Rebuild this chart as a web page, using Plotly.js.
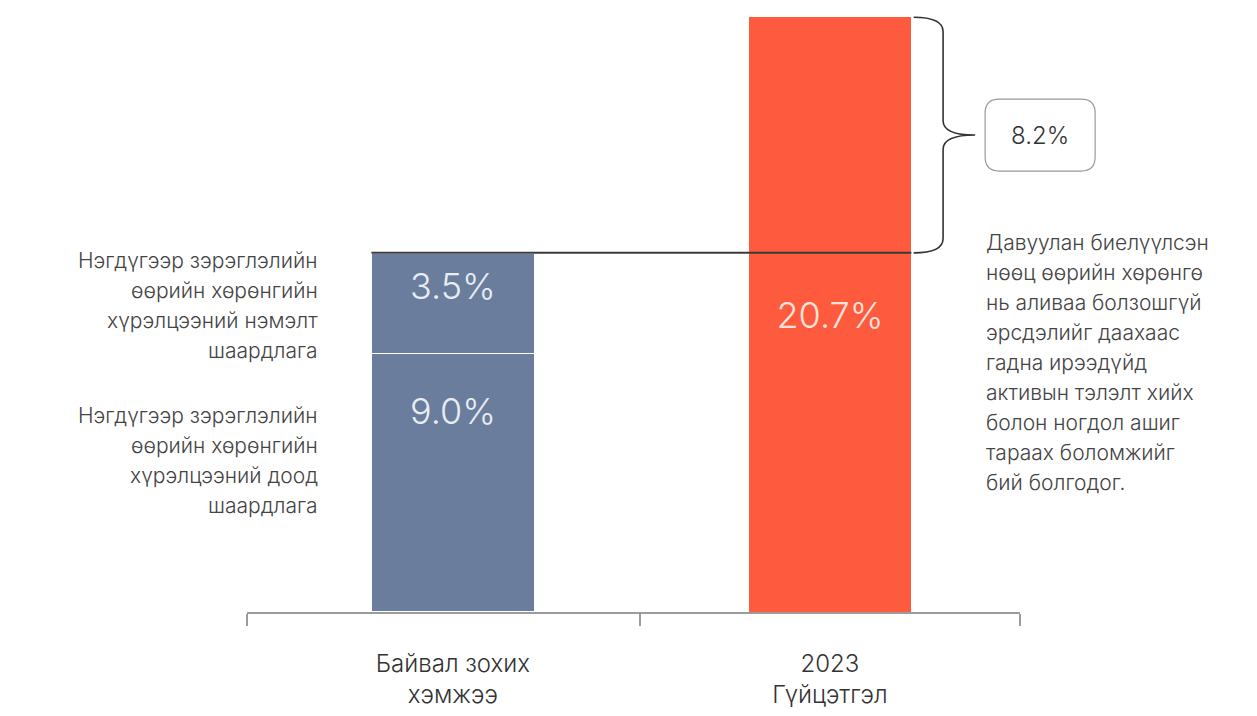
<!DOCTYPE html>
<html>
<head>
<meta charset="utf-8">
<script src="https://cdn.plot.ly/plotly-3.0.1.min.js"></script>
<style>
  html, body { margin: 0; padding: 0; background: #ffffff; }
  #chart { width: 1257px; height: 716px; }
</style>
</head>
<body>
<div id="chart"></div>
<script>
// ---- data ----
const categories = ['Байвал зохих<br>хэмжээ', '2023<br>Гүйцэтгэл'];
const minRequirement = [9.0];          // lower requirement segment (category 0)
const addRequirement = [3.5];          // additional requirement segment (category 0)
const actual2023 = [20.7];             // 2023 performance (category 1)
const excess = [8.2];                  // excess over requirement
const minReqLabel = ['Нэгдүгээр зэрэглэлийн', 'өөрийн хөрөнгийн', 'хүрэлцээний доод', 'шаардлага'];
const addReqLabel = ['Нэгдүгээр зэрэглэлийн', 'өөрийн хөрөнгийн', 'хүрэлцээний нэмэлт', 'шаардлага'];
const noteLines = ['Давуулан биелүүлсэн', 'нөөц өөрийн хөрөнгө', 'нь аливаа болзошгүй', 'эрсдэлийг даахаас',
  'гадна ирээдүйд', 'активын тэлэлт хийх', 'болон ногдол ашиг', 'тараах боломжийг', 'бий болгодог.'];

// ---- styles ----
const FONT = 'Inter, "Open Sans", "DejaVu Sans", sans-serif';
const BLUE = '#6a7d9d';
const RED = '#fe5b3e';
const BAR_W = 0.432;
const X_RANGE = [-0.546, 1.504];
const Y_RANGE = [0, 21.3];
const fmt = v => v.toFixed(1) + '%';

const totalReq = minRequirement[0] + addRequirement[0];
const topVal = actual2023[0];
const midVal = (topVal + totalReq) / 2;

const traces = [
  { type: 'bar', x: [0], y: minRequirement, width: BAR_W,
    marker: { color: BLUE, line: { color: '#ffffff', width: 1.5 } },
    hoverinfo: 'skip', showlegend: false },
  { type: 'bar', x: [0], y: addRequirement, width: BAR_W,
    marker: { color: BLUE, line: { color: '#ffffff', width: 1.5 } },
    hoverinfo: 'skip', showlegend: false },
  { type: 'bar', x: [1], y: actual2023, width: BAR_W,
    marker: { color: RED },
    text: actual2023.map(fmt), textposition: 'inside', insidetextanchor: 'middle',
    textfont: { family: FONT, size: 36, color: '#fbe3dc', weight: 300 },
    constraintext: 'none',
    hoverinfo: 'skip', showlegend: false }
];

const annotations = [];
// value labels in the stacked bar
annotations.push({ x: 0, y: minRequirement[0], xref: 'x', yref: 'y', yanchor: 'middle', yshift: -58,
  text: fmt(minRequirement[0]), showarrow: false,
  font: { family: FONT, size: 36, color: '#e8ecf3', weight: 300 } });
annotations.push({ x: 0, y: totalReq, xref: 'x', yref: 'y', yanchor: 'middle', yshift: -33,
  text: fmt(addRequirement[0]), showarrow: false,
  font: { family: FONT, size: 36, color: '#e8ecf3', weight: 300 } });

const sideFont = { family: FONT, size: 21, color: '#444444', weight: 300 };
const LINE = 30;
addReqLabel.forEach((t, i) => annotations.push({
  x: 0, y: totalReq, xref: 'paper', yref: 'y', xanchor: 'right', yanchor: 'middle', align: 'right',
  xshift: 73, yshift: -(8 + i * LINE), text: t, showarrow: false, font: sideFont }));
minReqLabel.forEach((t, i) => annotations.push({
  x: 0, y: minRequirement[0], xref: 'paper', yref: 'y', xanchor: 'right', yanchor: 'middle', align: 'right',
  xshift: 73, yshift: -(62 + i * LINE), text: t, showarrow: false, font: sideFont }));
noteLines.forEach((t, i) => annotations.push({
  x: 1, y: totalReq, xref: 'paper', yref: 'y', xanchor: 'left', yanchor: 'middle', align: 'left',
  xshift: -36, yshift: 10 - i * LINE, text: t, showarrow: false, font: sideFont }));

// excess label in rounded box
const TIP_X = 1.385;
annotations.push({ x: TIP_X, y: midVal, xref: 'x', yref: 'y', xanchor: 'center', yanchor: 'middle',
  xshift: 65, text: fmt(excess[0]), showarrow: false,
  font: { family: FONT, size: 24, color: '#333333', weight: 300 } });

const r = 14, bx0 = 10, bx1 = 120, by0 = -36, by1 = 36;
const boxPath = `M ${bx0 + r},${by0} L ${bx1 - r},${by0} Q ${bx1},${by0} ${bx1},${by0 + r} ` +
  `L ${bx1},${by1 - r} Q ${bx1},${by1} ${bx1 - r},${by1} L ${bx0 + r},${by1} ` +
  `Q ${bx0},${by1} ${bx0},${by1 - r} L ${bx0},${by0 + r} Q ${bx0},${by0} ${bx0 + r},${by0} Z`;

const bx = 1.222, bv = 1.30, cr = 0.5;
const bracePath = `M ${bx},${topVal} Q ${bv},${topVal} ${bv},${topVal - cr} ` +
  `L ${bv},${midVal + cr} Q ${bv},${midVal} ${TIP_X},${midVal} ` +
  `Q ${bv},${midVal} ${bv},${midVal - cr} L ${bv},${totalReq + cr} ` +
  `Q ${bv},${totalReq} ${bx},${totalReq}`;

const toPaperX = v => (v - X_RANGE[0]) / (X_RANGE[1] - X_RANGE[0]);
const toPaperY = v => (v - Y_RANGE[0]) / (Y_RANGE[1] - Y_RANGE[0]);

const shapes = [
  { type: 'line', xref: 'x', yref: 'y', x0: -BAR_W / 2, x1: 1 + BAR_W / 2, y0: totalReq, y1: totalReq,
    line: { color: '#3a3a3a', width: 2 } },
  { type: 'path', xref: 'x', yref: 'y', path: bracePath, line: { color: '#333333', width: 1.6 } },
  { type: 'path', xref: 'paper', yref: 'paper', xsizemode: 'pixel', ysizemode: 'pixel',
    xanchor: toPaperX(TIP_X), yanchor: toPaperY(midVal), path: boxPath,
    line: { color: '#9a9a9a', width: 1.2 } }
];

const layout = {
  width: 1257, height: 716,
  margin: { l: 247, r: 237, t: 0, b: 104 },
  paper_bgcolor: '#ffffff', plot_bgcolor: '#ffffff',
  barmode: 'stack', bargap: 0,
  xaxis: {
    type: 'linear', range: X_RANGE, fixedrange: true,
    showgrid: false, zeroline: false,
    showline: true, linecolor: '#9b9b9b', linewidth: 2,
    tickmode: 'array', tickvals: [0, 1], ticktext: categories, ticks: '',
    ticklabelstandoff: 29,
    tickfont: { family: FONT, size: 24, color: '#333333', weight: 300 },
    minor: { tickmode: 'array', tickvals: [-0.545, 0.496, 1.503], ticks: 'outside',
      ticklen: 12, tickwidth: 2, tickcolor: '#9b9b9b', showgrid: false }
  },
  yaxis: { range: Y_RANGE, visible: false, fixedrange: true },
  annotations: annotations,
  shapes: shapes,
  showlegend: false
};

Plotly.newPlot('chart', traces, layout, { staticPlot: true, displayModeBar: false });
</script>
</body>
</html>
